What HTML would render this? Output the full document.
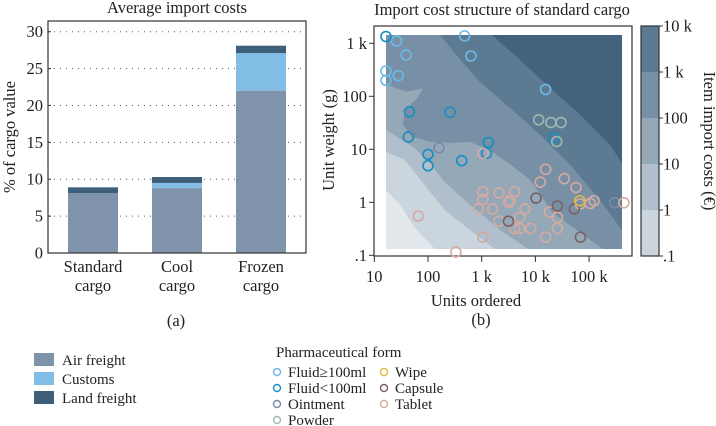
<!DOCTYPE html>
<html><head><meta charset="utf-8"><style>
html,body{margin:0;padding:0;background:#fff;}
svg{display:block;font-family:"Liberation Serif",serif;}
</style></head><body>
<svg id="c" width="716" height="426" viewBox="0 0 716 426" xmlns="http://www.w3.org/2000/svg"></svg>
<script>
// ---------- Chart (a) data ----------
const barCats = ["Standard|cargo","Cool|cargo","Frozen|cargo"];
const airFreight = [8.1, 8.8, 22.0];
const customs = [0.0, 0.7, 5.1];
const landFreight = [0.8, 0.8, 1.0];
const yTicksA = [0,5,10,15,20,25,30];

// ---------- Chart (b) data ----------
const xTickVals = [10,100,1000,10000,100000];
const xTickLabels = ["10","100","1 k","10 k","100 k"];
const yTickVals = [0.1,1,10,100,1000];
const yTickLabels = [".1","1","10","100","1 k"];
const cbTickVals = [0.1,1,10,100,1000,10000];
const cbTickLabels = [".1","1","10","100","1 k","10 k"];
const cbColors = ["#cbd5dd","#b0bfcb","#94a8b8","#7890a5","#5d7a93"];
const levelColors = ["#e3e8ed","#cbd5dd","#b0bfcb","#94a8b8","#7890a5","#5d7a93","#44627e"];
const b1U=[16.6,30,57,135], b1W=[2.1,0.9,0.33,0.13];
const b2U=[16.6,37,87,205,600,1780], b2W=[9.8,6.3,2.1,0.72,0.3,0.13];
const b3U=[16.6,52,110,190,600,2200,7400], b3W=[27,11.2,5.5,2.6,0.9,0.3,0.13];
const b4U=[16.6,40,81,62,37,34,50,110,257,600,1400,3900,8100,21000,44000,182000];
const b4W=[178,123,141,91,55,29,17.4,13.8,13.2,13.8,9.8,4.7,2.6,0.63,0.37,0.13];
const b5U=[166,400,930,3400,12300,44000,158000,410000], b5W=[1450,490,186,60,18.6,5.1,1.1,0.3];
const b6U=[1550,5100,18600,68000,245000,410000], b6W=[1450,490,145,45,12,5.5];
const fluidBigU=[26,39,16.5,16.5,28,480,630,15500], fluidBigW=[1100,600,300,200,245,1380,575,135];
const fluidSmallU=[16.5,45,257,43,100,100,425,1330,1230,22000], fluidSmallW=[1340,51,50,17,8,4.9,6.1,13.5,8.4,16.5];
const ointmentU=[85,56,160,300000], ointmentW=[42,25,10.7,0.98];
const powderU=[11500,19500,30000,25000], powderW=[36,32,32,14];
const wipeU=[67000], wipeW=[1.07];
const capsuleU=[10300,25700,53000,3150,69000], capsuleW=[1.2,0.85,0.75,0.44,0.22];
const tabletU=[66,330,1050,1050,1050,870,1600,2100,2100,4100,3170,3370,4100,5100,5100,6400,8200,12300,15500,15500,18300,25700,25700,34500,57000,68000,105000,124000,445000,1050];
const tabletW=[0.55,0.115,8.3,1.58,1.14,0.75,0.75,0.44,1.5,1.58,1.0,1.1,0.32,0.32,0.52,0.75,0.32,2.4,4.2,0.22,0.66,0.52,0.32,2.8,1.9,0.93,0.95,1.07,0.98,0.22];

const FS=16.5, LFS=15;
const NS="http://www.w3.org/2000/svg";
const svg=document.getElementById('c');
function mk(tag,attrs,parent){const e=document.createElementNS(NS,tag);for(const k in attrs)e.setAttribute(k,attrs[k]);(parent||svg).appendChild(e);return e;}
function txt(s,x,y,size,anchor,parent){const t=mk('text',{x:x,y:y,'font-size':size,'text-anchor':anchor||'middle',fill:'#222'},parent);t.textContent=s;return t;}

// ===== Chart (a) =====
const A={l:48,r:306,t:21,b:253,max:30};
function yA(v){return 253-v*(253-31.7)/30;}
const gA=mk('g',{});


const tA=txt("Average import costs",177,13,FS,'middle',gA);

yTicksA.forEach(v=>{
  if(v>0){const gl=mk('line',{x1:A.l,x2:A.r,y1:yA(v),y2:yA(v),stroke:'#555','stroke-width':1,'stroke-dasharray':'1 5'},gA);
  }
  const t=txt(String(v),43,yA(v)+5.5,FS,'end',gA);
  
  mk('line',{x1:A.l,x2:A.l+3,y1:yA(v),y2:yA(v),stroke:'#333'},gA);
});
const bw=50, step=84, x0=68;
barCats.forEach((c,i)=>{
  const x=x0+i*step;
  const segs=[[airFreight[i],'#7f94ab','air'],[customs[i],'#82bde6','customs'],[landFreight[i],'#3e5f7a','land']];
  let base=0;
  segs.forEach(s=>{
    if(s[0]>0){const r=mk('rect',{x:x,y:yA(base+s[0]),width:bw,height:yA(base)-yA(base+s[0]),fill:s[1]},gA);
    }
    base+=s[0];
  });
  const parts=c.split('|');
  const l1=txt(parts[0],x+bw/2,272,FS,'middle',gA);
  
  const l2=txt(parts[1],x+bw/2,291,FS,'middle',gA);
  
});
const fA=mk('rect',{x:A.l,y:A.t,width:A.r-A.l,height:A.b-A.t,fill:'none',stroke:'#333','stroke-width':1.2},gA);

const yTA=txt("% of cargo value",0,0,FS,'middle',gA);
yTA.setAttribute('transform','translate(15,137) rotate(-90)');

const capA=txt("(a)",176,326,FS,'middle',gA);


// ===== Chart (b) =====
const xL=u=>374.3+(Math.log10(u)-1)*53.7;
const yL=w=>43.3-(Math.log10(w)-3)*53;
const R={x1:386,x2:622,y1:35,y2:249};
const gB=mk('g',{});


const defs=mk('defs',{},gB);
const cp=mk('clipPath',{id:'clipR'},defs);
mk('rect',{x:R.x1,y:R.y1,width:R.x2-R.x1,height:R.y2-R.y1},cp);
const tB=txt("Import cost structure of standard cargo",502,15,FS,'middle',gB);

const cg=mk('g',{'clip-path':'url(#clipR)'},gB);

const bg=mk('rect',{x:R.x1,y:R.y1,width:R.x2-R.x1,height:R.y2-R.y1,fill:levelColors[0]},cg);

const bounds=[[b1U,b1W],[b2U,b2W],[b3U,b3W],[b4U,b4W],[b5U,b5W],[b6U,b6W]];
bounds.forEach((b,k)=>{
  let pts=b[0].map((u,i)=>[xL(u),yL(b[1][i])]);
  pts.push([R.x2+5,R.y2+5],[R.x2+5,R.y1-5],[R.x1-5,R.y1-5]);
  const first=pts[0];
  if(first[0]<=R.x1+1){pts[0]=[R.x1-5,first[1]];pts.unshift(first);}
  const p=mk('polygon',{points:pts.map(q=>q[0].toFixed(1)+','+q[1].toFixed(1)).join(' '),fill:levelColors[k+1]},cg);
  
  
});
const fB=mk('rect',{x:374,y:26,width:258,height:230,fill:'none',stroke:'#333','stroke-width':1.2},gB);

xTickVals.forEach((v,i)=>{
  mk('line',{x1:xL(v),x2:xL(v),y1:256,y2:262,stroke:'#333'},gB);
  const t=txt(xTickLabels[i],xL(v),282,FS,'middle',gB);
  
});
yTickVals.forEach((v,i)=>{
  mk('line',{x1:369,x2:374,y1:yL(v),y2:yL(v),stroke:'#333'},gB);
  const t=txt(yTickLabels[i],367,yL(v)+5.5,FS,'end',gB);
  
});
const xTB=txt("Units ordered",476,306,FS,'middle',gB);

const yTB=txt("Unit weight (g)",0,0,FS,'middle',gB);
yTB.setAttribute('transform','translate(334,140) rotate(-90)');

const capB=txt("(b)",481,325,FS,'middle',gB);

// colorbar
const cbY=v=>256-(Math.log10(v)+1)*46;
cbColors.forEach((c,i)=>{
  const r=mk('rect',{x:641,y:cbY(cbTickVals[i+1]),width:18,height:cbY(cbTickVals[i])-cbY(cbTickVals[i+1]),fill:c},gB);
  
});
mk('rect',{x:641,y:26,width:18,height:230,fill:'none',stroke:'#333','stroke-width':1.2},gB);
cbTickVals.forEach((v,i)=>{
  mk('line',{x1:659,x2:663,y1:cbY(v),y2:cbY(v),stroke:'#333'},gB);
  const t=txt(cbTickLabels[i],663,cbY(v)+5.5,FS,'start',gB);
  
});
const cbT=txt("Item import costs (€)",0,0,FS,'middle',gB);
cbT.setAttribute('transform','translate(704,141) rotate(90)');

// points
const series=[[fluidBigU,fluidBigW,'#6cb8e8','fluid-large'],[fluidSmallU,fluidSmallW,'#168fc2','fluid-small'],
 [ointmentU,ointmentW,'#7a8ba4','ointment'],[powderU,powderW,'#9dbab2','powder'],
 [tabletU,tabletW,'#d4aaa2','tablet'],[capsuleU,capsuleW,'#7a6266','capsule'],[wipeU,wipeW,'#e0be3c','wipe']];
series.forEach(s=>{
  s[0].forEach((u,i)=>{
    const c=mk('circle',{cx:xL(u),cy:yL(s[1][i]),r:5,fill:'none',stroke:s[2],'stroke-width':1.6},gB);
    
    
  });
});

// ===== Legends =====
const gL=mk('g',{});


[['Air freight','#7f94ab'],['Customs','#82bde6'],['Land freight','#3e5f7a']].forEach((e,i)=>{
  const r=mk('rect',{x:34,y:353+i*19,width:20,height:13,fill:e[1]},gL);
  
  const t=txt(e[0],62,365+i*19,LFS,'start',gL);
  
});
const gR=mk('g',{});


const lt=txt("Pharmaceutical form",276,357,LFS,'start',gR);

[['Fluid≥100ml','#6cb8e8',0,0],['Fluid<100ml','#168fc2',0,1],['Ointment','#7a8ba4',0,2],['Powder','#9dbab2',0,3],
 ['Wipe','#e0be3c',1,0],['Capsule','#7a6266',1,1],['Tablet','#d4aaa2',1,2]].forEach(e=>{
  const cx=e[2]?384:277, cy=372+e[3]*16;
  const c=mk('circle',{cx:cx,cy:cy,r:3.5,fill:'none',stroke:e[1],'stroke-width':1.4},gR);
  
  const t=txt(e[0],cx+11,cy+5,LFS,'start',gR);
  
});
</script>
</body></html>
